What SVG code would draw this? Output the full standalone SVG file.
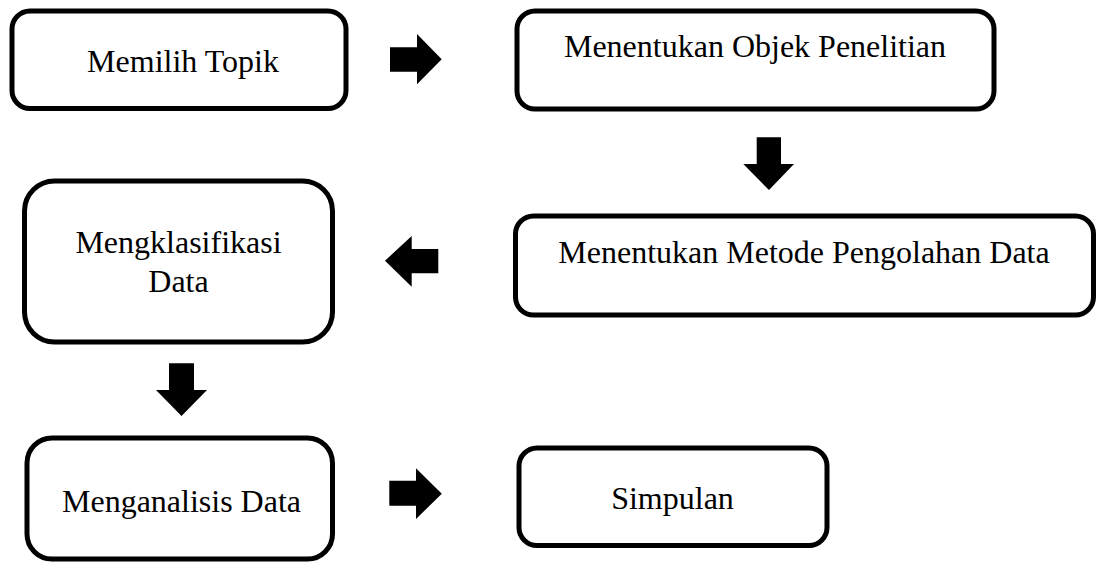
<svg xmlns="http://www.w3.org/2000/svg" width="1106" height="562" viewBox="0 0 1106 562">
<style>
.box{fill:#fff;stroke:#000;stroke-width:5}
.lbl{font-family:"Liberation Serif","Times New Roman",serif;font-size:32px;fill:#000;text-anchor:middle}
.arr{fill:#000;stroke:none}
</style>
<rect width="1106" height="562" fill="#fff"/>
<g id="n1"><rect class="box" x="12" y="11" width="334" height="97.5" rx="18"/><text class="lbl" x="183" y="72">Memilih Topik</text></g>
<g id="n2"><rect class="box" x="517" y="11" width="477" height="98" rx="18"/><text class="lbl" x="755" y="57">Menentukan Objek Penelitian</text></g>
<g id="n3"><rect class="box" x="515.5" y="216" width="578" height="99" rx="18"/><text class="lbl" x="804" y="263">Menentukan Metode Pengolahan Data</text></g>
<g id="n4"><rect class="box" x="24.5" y="181" width="308" height="161" rx="30"/><text class="lbl" x="178.5" y="253">Mengklasifikasi</text><text class="lbl" x="178.5" y="291.5">Data</text></g>
<g id="n5"><rect class="box" x="27" y="438" width="305.5" height="121" rx="25"/><text class="lbl" x="181.5" y="512">Menganalisis Data</text></g>
<g id="n6"><rect class="box" x="519" y="448" width="308" height="97.5" rx="18"/><text class="lbl" x="672.5" y="509">Simpulan</text></g>
<g id="connectors">
<polygon class="arr" points="390,47.3 417,47.3 417,34 441.7,59.3 417,84.3 417,71.7 390,71.7"/>
<polygon class="arr" points="756.7,137.3 781,137.3 781,164 794,164 769,190 743.3,164 756.7,164"/>
<polygon class="arr" points="438.3,249 411.7,249 411.7,236 385,260.7 411.7,286.7 411.7,273.3 438.3,273.3"/>
<polygon class="arr" points="169,363.3 194,363.3 194,390 207,390 181.5,416 156,390 169,390"/>
<polygon class="arr" points="389.3,480.7 416,480.7 416,468.3 441.8,493.7 416,519 416,505.7 389.3,505.7"/>
</g>
</svg>
